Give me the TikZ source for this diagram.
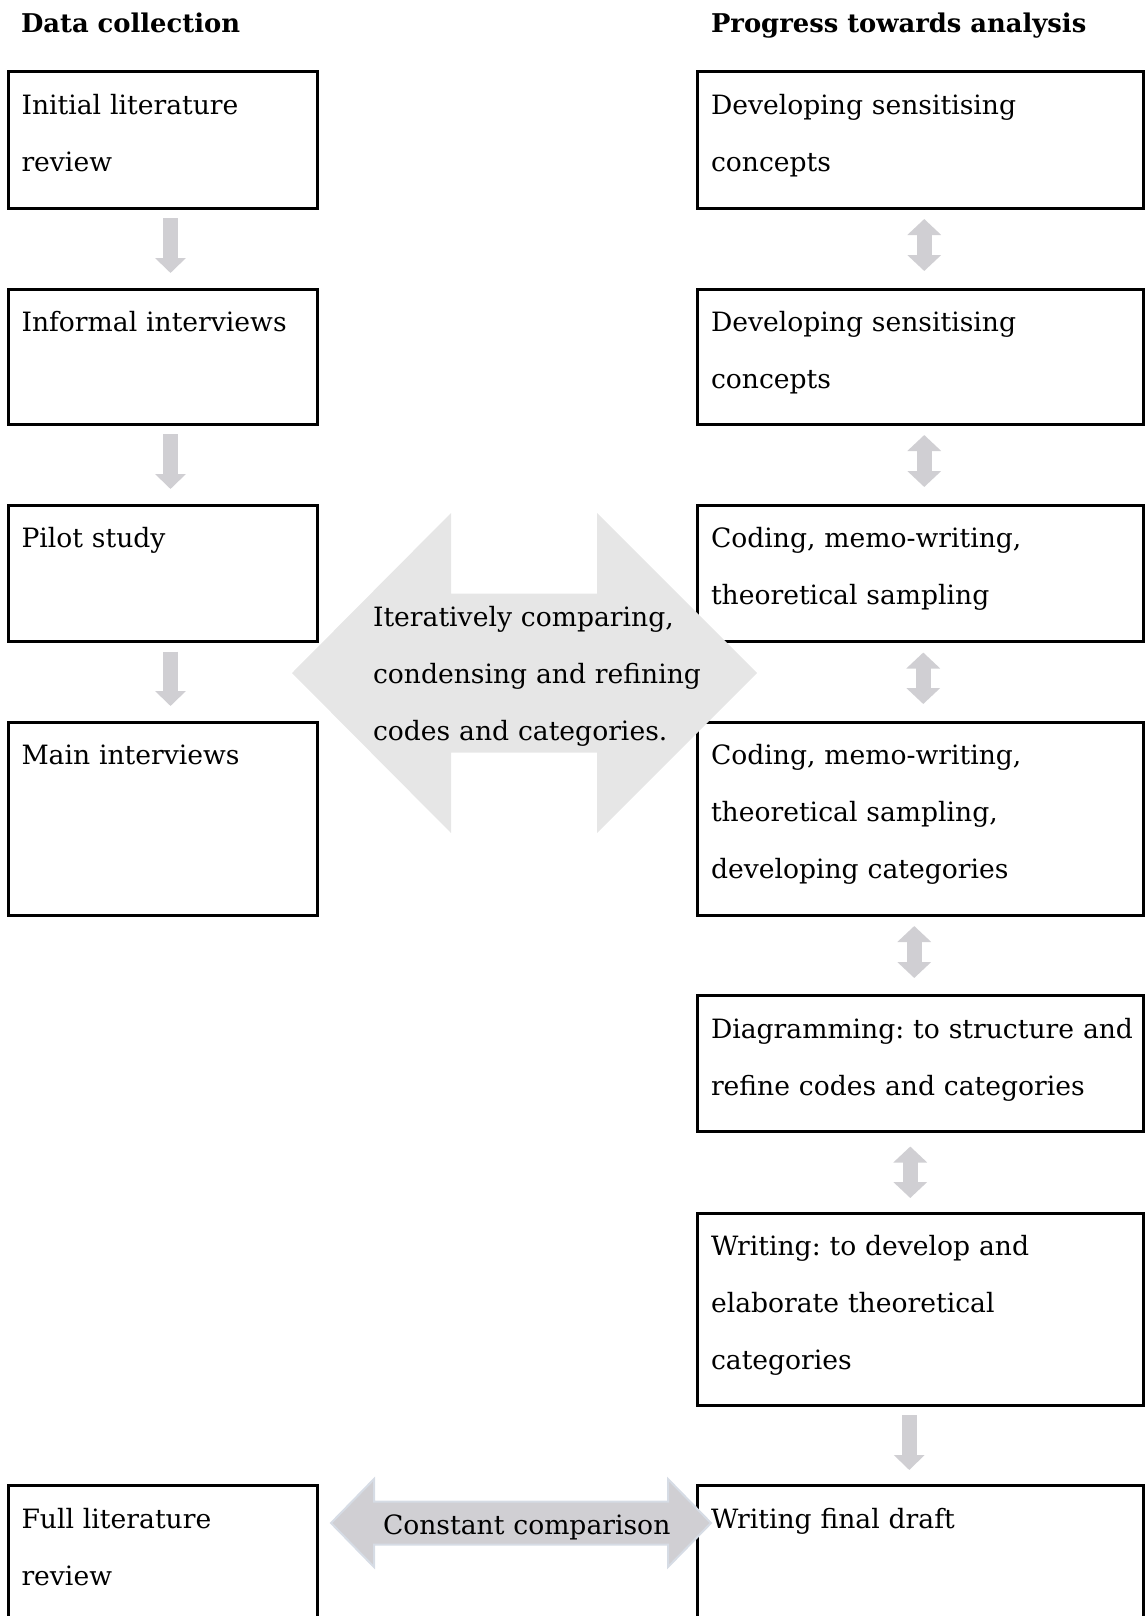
\documentclass[tikz,border=0pt]{standalone}
\usepackage{fontspec}
\setmainfont{DejaVu Serif}
\frenchspacing
\usetikzlibrary{arrows.meta}
\definecolor{arrgray}{RGB}{208,207,211}
\definecolor{biggray}{RGB}{230,230,230}
\definecolor{ccedge}{RGB}{214,220,229}

\begin{document}
\begin{tikzpicture}[x=0.5pt, y=0.5pt, outer sep=0pt,
  lbox/.style={draw, line width=1.5pt, anchor=north west, inner sep=0pt, minimum width=154.5pt, minimum height=#1},
  rbox/.style={lbox=#1, minimum width=223.25pt},
  txt/.style={anchor=base west, align=left, text width=260pt, inner sep=0pt, font=\fontsize{13.3}{28.5}\selectfont},
  head/.style={anchor=base west, inner sep=0pt, font=\fontsize{12.9}{14}\selectfont\bfseries},
  downarrow/.style={draw=arrgray, line width=7.5pt, -{Triangle[width=15pt,length=7.5pt]}},
  twoway/.style={draw=arrgray, line width=7.5pt, {Triangle[width=16.5pt,length=8pt]}-{Triangle[width=16.5pt,length=8pt]}}]
\useasboundingbox (0,0) rectangle (1145,-1616);
\clip (0,0) rectangle (1145,-1616);

\node[head] (dc) at (21,-33) {Data collection};
\node[head] (pta) at (711,-33) {Progress towards analysis};

% left column
\node[lbox=68pt] (L1) at (8.5,-72) {};
\node[lbox=67.5pt] (L2) at (8.5,-289) {};
\node[lbox=68.25pt] (L3) at (8.5,-505) {};
\node[lbox=96.5pt] (L4) at (8.5,-722) {};
\node[lbox=120pt] (L7) at (8.5,-1485) {};

% right column
\node[rbox=68pt] (R1) at (697,-72) {};
\node[rbox=67.5pt] (R2) at (697,-289) {};
\node[rbox=68.25pt] (R3) at (697,-505) {};
\node[rbox=96.5pt] (R4) at (697,-722) {};
\node[rbox=68.25pt] (R5) at (697,-995) {};
\node[rbox=96pt] (R6) at (697,-1213) {};
\node[rbox=120pt] (R7) at (697,-1485) {};

\foreach \a/\b in {L1/L2,L2/L3,L3/L4}
  \draw[downarrow] ([shift={(7.5,-10)}]\a.south) -- ([shift={(7.5,16)}]\b.north);

\draw[twoway] ([shift={(4,-11)}]R1.south) -- ([shift={(4,18)}]R2.north);
\draw[twoway] ([shift={(4,-11)}]R2.south) -- ([shift={(4,18)}]R3.north);
\draw[twoway] ([shift={(3,-11)}]R3.south) -- ([shift={(3,18)}]R4.north);
\draw[twoway] ([shift={(-6,-11)}]R4.south) -- ([shift={(-6,17)}]R5.north);
\draw[twoway] ([shift={(-10,-15)}]R5.south) -- ([shift={(-10,15)}]R6.north);
\draw[downarrow] ([shift={(-11,-10)}]R6.south) -- ([shift={(-11,15)}]R7.north);

% the two big arrows
\fill[biggray] (292,-673) -- (451,-513) -- (451,-593.5) -- (597,-593.5) -- (597,-513)
  -- (757,-673) -- (597,-833) -- (597,-752.5) -- (451,-752.5) -- (451,-833) -- cycle;
\filldraw[fill=arrgray, draw=ccedge, line width=1pt] (331,-1523) -- (374,-1479) -- (374,-1501.5)
  -- (668,-1501.5) -- (668,-1479) -- (711,-1523) -- (668,-1567) -- (668,-1544.5)
  -- (374,-1544.5) -- (374,-1567) -- cycle;

% texts
\node[txt] (L1t) at ([shift={(13,-42)}]L1.north west) {Initial literature\\review};
\node[txt] (L2t) at ([shift={(13,-42)}]L2.north west) {Informal interviews};
\node[txt] (L3t) at ([shift={(13,-42)}]L3.north west) {Pilot study};
\node[txt] (L4t) at ([shift={(13,-42)}]L4.north west) {Main interviews};
\node[txt] (L7t) at ([shift={(13,-43)}]L7.north west) {Full literature\\review};
\node[txt] (R1t) at ([shift={(14,-42)}]R1.north west) {Developing sensitising\\concepts};
\node[txt] (R2t) at ([shift={(14,-42)}]R2.north west) {Developing sensitising\\concepts};
\node[txt] (R3t) at ([shift={(14,-42)}]R3.north west) {Coding, memo-writing,\\theoretical sampling};
\node[txt] (R4t) at ([shift={(14,-42)}]R4.north west) {Coding, memo-writing,\\theoretical sampling,\\developing categories};
\node[txt] (R5t) at ([shift={(14,-43)}]R5.north west) {Diagramming: to structure and\\refine codes and categories};
\node[txt] (R6t) at ([shift={(14,-42)}]R6.north west) {Writing: to develop and\\elaborate theoretical\\categories};
\node[txt] (R7t) at ([shift={(14,-43)}]R7.north west) {Writing final draft};
\node[txt] (iter) at (373,-626) {Iteratively comparing,\\condensing and refining\\codes and categories.};
\node[txt] (cc) at (383,-1534) {Constant comparison};
\end{tikzpicture}
\end{document}
